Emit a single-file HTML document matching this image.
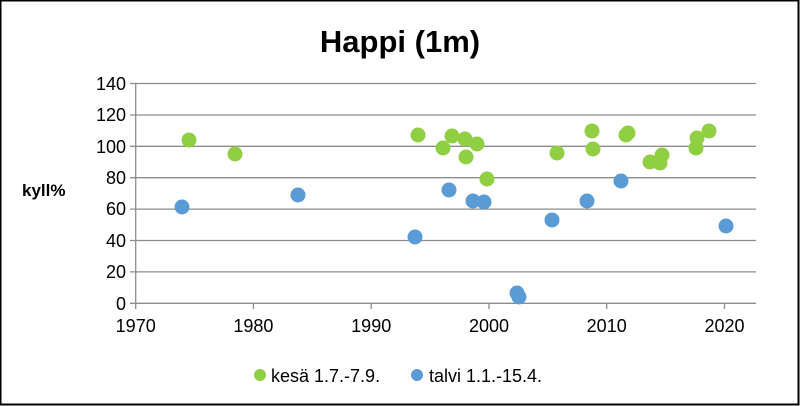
<!DOCTYPE html>
<html><head><meta charset="utf-8"><style>
html,body{margin:0;padding:0;background:#fff;}
svg{display:block;font-family:"Liberation Sans Narrow","Liberation Sans",sans-serif;}
</style></head><body>
<svg width="800" height="406" viewBox="0 0 800 406" xmlns="http://www.w3.org/2000/svg">
<rect x="0.5" y="0.5" width="798" height="404" fill="#fff" stroke="#000" stroke-width="2"/>
<text x="400" y="52" text-anchor="middle" font-size="31" font-weight="bold" fill="#000">Happi (1m)</text>
<g stroke="#8c8c8c" stroke-width="1.3">
<line x1="130" x2="756" y1="83.5" y2="83.5"/>
<line x1="130" x2="756" y1="115" y2="115"/>
<line x1="130" x2="756" y1="146.3" y2="146.3"/>
<line x1="130" x2="756" y1="177.7" y2="177.7"/>
<line x1="130" x2="756" y1="209.1" y2="209.1"/>
<line x1="130" x2="756" y1="240.5" y2="240.5"/>
<line x1="130" x2="756" y1="271.9" y2="271.9"/>
<line x1="130" x2="756" y1="303.3" y2="303.3"/>
<line x1="135.7" x2="135.7" y1="83.5" y2="309"/>
<line x1="253.4" x2="253.4" y1="303" y2="309"/>
<line x1="371.2" x2="371.2" y1="303" y2="309"/>
<line x1="489" x2="489" y1="303" y2="309"/>
<line x1="606.7" x2="606.7" y1="303" y2="309"/>
<line x1="724.5" x2="724.5" y1="303" y2="309"/>
</g>
<g font-size="18" fill="#000" text-anchor="end">
<text x="126" y="90">140</text><text x="126" y="121">120</text><text x="126" y="153">100</text>
<text x="126" y="184">80</text><text x="126" y="215">60</text><text x="126" y="247">40</text>
<text x="126" y="278">20</text><text x="126" y="310">0</text>
</g>
<g font-size="18" fill="#000" text-anchor="middle">
<text x="135.7" y="332">1970</text><text x="253.4" y="332">1980</text><text x="371.2" y="332">1990</text>
<text x="489" y="332">2000</text><text x="606.7" y="332">2010</text><text x="724.5" y="332">2020</text>
</g>
<text x="22" y="196" font-size="17" font-weight="bold" fill="#000">kyll%</text>
<g fill="#8fcf41">
<circle cx="189" cy="140" r="7.5"/><circle cx="235" cy="154" r="7.5"/><circle cx="418" cy="135" r="7.5"/>
<circle cx="443" cy="148" r="7.5"/><circle cx="452" cy="136" r="7.5"/><circle cx="465" cy="139" r="7.5"/>
<circle cx="466" cy="157" r="7.5"/><circle cx="477" cy="144" r="7.5"/><circle cx="487" cy="179" r="7.5"/>
<circle cx="557" cy="153" r="7.5"/><circle cx="592" cy="131" r="7.5"/><circle cx="593" cy="149" r="7.5"/>
<circle cx="626" cy="135" r="7.5"/><circle cx="628" cy="133" r="7.5"/><circle cx="650" cy="162" r="7.5"/>
<circle cx="662" cy="155" r="7.5"/><circle cx="660" cy="163" r="7.5"/>
<circle cx="697" cy="138" r="7.5"/><circle cx="696" cy="148" r="7.5"/><circle cx="709" cy="131" r="7.5"/>
</g>
<g fill="#5b9bd5">
<circle cx="182" cy="207" r="7.5"/><circle cx="298" cy="195" r="7.5"/><circle cx="415" cy="237" r="7.5"/>
<circle cx="449" cy="190" r="7.5"/><circle cx="473" cy="201" r="7.5"/><circle cx="484" cy="202" r="7.5"/>
<circle cx="517" cy="293" r="7.5"/><circle cx="519" cy="297" r="7.5"/><circle cx="552" cy="220" r="7.5"/>
<circle cx="587" cy="201" r="7.5"/><circle cx="621" cy="181" r="7.5"/><circle cx="726" cy="226" r="7.5"/>
</g>
<circle cx="260" cy="375" r="6" fill="#8fcf41"/>
<text x="271" y="382" font-size="18" fill="#000">kesä 1.7.-7.9.</text>
<circle cx="417" cy="375" r="6" fill="#5b9bd5"/>
<text x="429" y="382" font-size="18" fill="#000">talvi 1.1.-15.4.</text>
</svg>
</body></html>
